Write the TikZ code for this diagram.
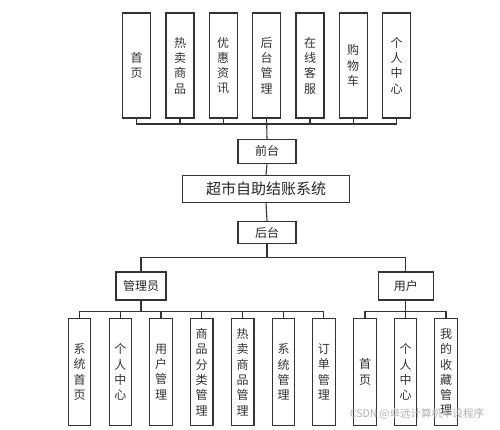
\documentclass[tikz,border=0pt]{standalone}
\usepackage{fontspec}
\setmainfont{Noto Sans CJK SC}
\newfontfamily\cjk{Noto Sans CJK SC}
\begin{document}
\begin{tikzpicture}[x=1pt,y=-1pt,
  line/.style={draw=black!80, line width=1.1pt},
  vbox/.style={draw=black!80, line width=1.1pt, inner sep=0pt, align=center,
    font=\cjk\fontsize{12}{15.3}\selectfont, text=black!80},
  topbox/.style={vbox, minimum width=28pt, minimum height=105pt},
  botbox/.style={vbox, minimum width=22.5pt, minimum height=107pt},
  hbox/.style={draw=black!80, line width=1.1pt, inner sep=0pt, font=\cjk\fontsize{12}{14}\selectfont, text=black!85}
]
\useasboundingbox (0,0) rectangle (500,429);
\fill[white] (0,0) rectangle (500,429);
% top boxes
\node[topbox] (t1) at (136.7,65.5) {首\\页};
\node[topbox] (t2) at (180,65.5) {热\\卖\\商\\品};
\node[topbox] (t3) at (223.2,65.5) {优\\惠\\资\\讯};
\node[topbox] (t4) at (266.5,65.5) {后\\台\\管\\理};
\node[topbox] (t5) at (310,65.5) {在\\线\\客\\服};
\node[topbox] (t6) at (353.2,65.5) {购\\物\\车};
\node[topbox] (t7) at (396.5,65.5) {个\\人\\中\\心};
% middle
\node[hbox, minimum width=58pt, minimum height=24pt] (qt) at (267,151.3) {前台};
\node[hbox, minimum width=167pt, minimum height=27pt, font=\cjk\fontsize{15}{18}\selectfont] (main) at (266,189.2) {超市自助结账系统};
\node[hbox, minimum width=58pt, minimum height=22pt] (ht) at (267,232.5) {后台};
\node[hbox, minimum width=50pt, minimum height=28pt] (gl) at (141,286) {管理员};
\node[hbox, minimum width=55pt, minimum height=28pt] (yh) at (405.8,286) {用户};
% bottom admin
\node[botbox] (a1) at (79.5,372) {系\\统\\首\\页};
\node[botbox] (a2) at (120.3,372) {个\\人\\中\\心};
\node[botbox] (a3) at (161,372) {用\\户\\管\\理};
\node[botbox] (a4) at (201.7,372) {商\\品\\分\\类\\管\\理};
\node[botbox] (a5) at (242.7,372) {热\\卖\\商\\品\\管\\理};
\node[botbox] (a6) at (283.5,372) {系\\统\\管\\理};
\node[botbox] (a7) at (323.8,372) {订\\单\\管\\理};
% bottom user
\node[botbox] (u1) at (365,372) {首\\页};
\node[botbox] (u2) at (405.5,372) {个\\人\\中\\心};
\node[botbox] (u3) at (446,372) {我\\的\\收\\藏\\管\\理};
% connectors
\coordinate (tb) at (266.7,124);
\foreach \i in {1,...,7} { \draw[line] (t\i.south) |- (tb); }
\draw[line] (tb) -- (qt.north);
\draw[line] (qt.south) -- (main.north);
\draw[line] (main.south) -- (ht.north);
\coordinate (hb) at (267,257.3);
\draw[line] (ht.south) -- (hb);
\draw[line] (gl.north) |- (hb);
\draw[line] (hb) -| (yh.north);
\coordinate (ab) at (141,311.7);
\draw[line] (gl.south) -- (ab);
\foreach \i in {1,...,7} { \draw[line] (a\i.north) |- (ab); }
\coordinate (ub) at (405.8,311.7);
\draw[line] (yh.south) -- (ub);
\foreach \i in {1,2,3} { \draw[line] (u\i.north) |- (ub); }
% watermark
\node[text=black!30, font=\cjk\fontsize{10.5}{12}\selectfont, inner sep=0pt] (wm) at (417,414) {CSDN @卓远计算机毕设程序};
\end{tikzpicture}
\end{document}
